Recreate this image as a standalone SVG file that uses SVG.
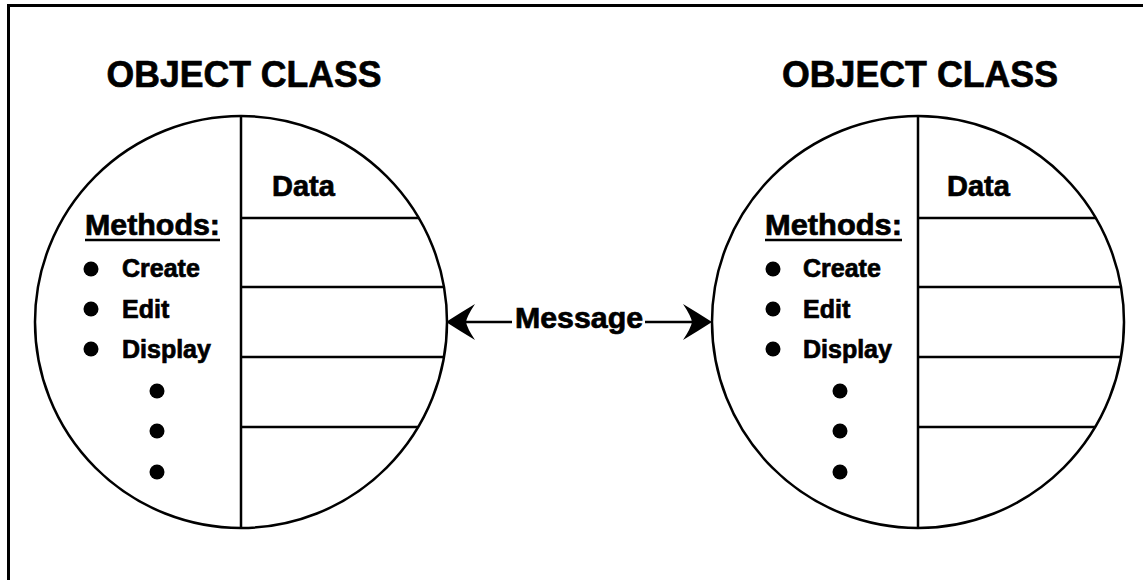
<svg xmlns="http://www.w3.org/2000/svg" width="1143" height="580" viewBox="0 0 1143 580">
<style>
.ln{stroke:#000;stroke-width:2.5;fill:none}
.t{font-family:"Liberation Sans",Arial,Helvetica,sans-serif;font-weight:bold;fill:#000;stroke:#000;stroke-width:0.7}
.title{font-size:37px}
.data{font-size:29px}
.meth{font-size:30px}
.item{font-size:25px}
.msg{font-size:29px}
.dot{fill:#000}
</style>
<defs>
<path id="head" d="M0,0 Q14,-9 29,-18 Q21,-6 20,0 Q21,6 29,18 Q14,9 0,0 Z" fill="#000"/>
</defs>
<rect x="8.5" y="5.5" width="1200" height="640" fill="none" stroke="#000" stroke-width="3"/>

<g id="class-left">
<text class="t title" x="244" y="87" text-anchor="middle" textLength="275" lengthAdjust="spacingAndGlyphs">OBJECT CLASS</text>
<circle class="ln" cx="241" cy="322" r="206"/>
<line class="ln" x1="241" y1="116" x2="241" y2="528"/>
<line class="ln" x1="241" y1="218" x2="419" y2="218"/>
<line class="ln" x1="241" y1="287" x2="444" y2="287"/>
<line class="ln" x1="241" y1="357" x2="444" y2="357"/>
<line class="ln" x1="241" y1="427" x2="418" y2="427"/>
<text class="t data" x="272" y="196">Data</text>
<text class="t meth" x="85" y="235" textLength="135" lengthAdjust="spacingAndGlyphs">Methods:</text>
<line x1="85" y1="240" x2="220" y2="240" stroke="#000" stroke-width="2.5"/>
<circle class="dot" cx="91" cy="269" r="7.5"/>
<text class="t item" x="122" y="277">Create</text>
<circle class="dot" cx="91" cy="309" r="7.5"/>
<text class="t item" x="122" y="318">Edit</text>
<circle class="dot" cx="91" cy="349" r="7.5"/>
<text class="t item" x="122" y="358">Display</text>
<circle class="dot" cx="157" cy="391" r="7.5"/>
<circle class="dot" cx="157" cy="431" r="7.5"/>
<circle class="dot" cx="157" cy="472" r="7.5"/>
</g>

<g id="class-right">
<text class="t title" x="920" y="87" text-anchor="middle" textLength="276" lengthAdjust="spacingAndGlyphs">OBJECT CLASS</text>
<circle class="ln" cx="918" cy="322" r="206"/>
<line class="ln" x1="918" y1="116" x2="918" y2="528"/>
<line class="ln" x1="918" y1="218" x2="1096" y2="218"/>
<line class="ln" x1="918" y1="287" x2="1121" y2="287"/>
<line class="ln" x1="918" y1="357" x2="1121" y2="357"/>
<line class="ln" x1="918" y1="427" x2="1095" y2="427"/>
<text class="t data" x="947" y="196">Data</text>
<text class="t meth" x="765" y="235" textLength="137" lengthAdjust="spacingAndGlyphs">Methods:</text>
<line x1="765" y1="240" x2="902" y2="240" stroke="#000" stroke-width="2.5"/>
<circle class="dot" cx="773" cy="269" r="7.5"/>
<text class="t item" x="803" y="277">Create</text>
<circle class="dot" cx="773" cy="309" r="7.5"/>
<text class="t item" x="803" y="318">Edit</text>
<circle class="dot" cx="773" cy="349" r="7.5"/>
<text class="t item" x="803" y="358">Display</text>
<circle class="dot" cx="840" cy="391" r="7.5"/>
<circle class="dot" cx="840" cy="431" r="7.5"/>
<circle class="dot" cx="840" cy="472" r="7.5"/>
</g>

<g id="connectors">
<line class="ln" x1="465" y1="322" x2="512" y2="322"/>
<line class="ln" x1="645" y1="322" x2="692" y2="322"/>
<use href="#head" transform="translate(446,322)"/>
<use href="#head" transform="translate(712,322) scale(-1,1)"/>
<text class="t msg" x="579" y="328" text-anchor="middle" textLength="128" lengthAdjust="spacingAndGlyphs">Message</text>
</g>
</svg>
